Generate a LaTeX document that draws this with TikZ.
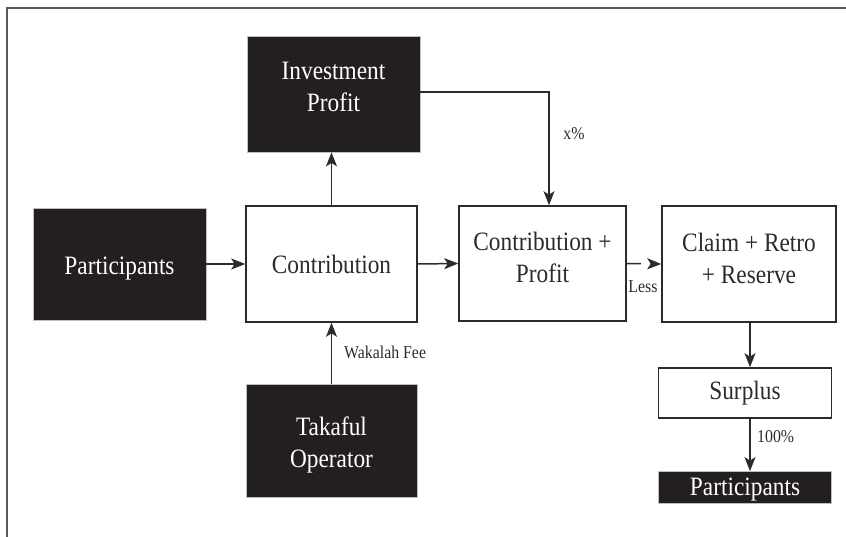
\documentclass[tikz,border=0pt]{standalone}
\usepackage{fontspec}
\setmainfont{Liberation Serif}[FakeStretch=0.88]
\usetikzlibrary{arrows.meta}
\definecolor{boxblack}{HTML}{231F20}
\definecolor{linegray}{HTML}{2B2B2B}
\definecolor{framegray}{HTML}{5A5A5A}
\newcommand{\mvtext}[2]{\raisebox{#1}[\height][\depth]{\begin{tabular}{@{}c@{}}#2\end{tabular}}}
\begin{document}
\begin{tikzpicture}[x=1pt,y=-1pt,
  big/.style={font=\fontsize{26.5}{32}\selectfont},
  blk/.style={big, fill=boxblack, draw=gray!50, line width=0.8pt, text=white, align=center, inner sep=0pt},
  wht/.style={big, fill=white, draw=linegray, line width=1.6pt, text=linegray, align=center, inner sep=0pt},
  arr/.style={draw=linegray, line width=1.5pt, -{Stealth[length=14pt,width=11pt,inset=3.5pt]}},
  lbl/.style={font=\fontsize{18}{20}\selectfont, text=linegray, inner sep=0pt},
  frame/.style={draw=framegray, line width=2.5pt}]
\useasboundingbox (0,0) rectangle (846,537);
\draw[frame] (7,537) -- (7,8) -- (846,8);
\node[blk, minimum width=173pt, minimum height=116pt] (ip) at (333.5,94) {\mvtext{5pt}{Investment\\Profit}};
\node[blk, minimum width=173pt, minimum height=112pt] (p1) at (119.5,264) {\mvtext{-4pt}{Participants}};
\node[wht, minimum width=171pt, minimum height=116pt] (con) at (331.5,264) {Contribution};
\node[wht, minimum width=167pt, minimum height=115pt] (cp) at (542.5,263.5) {\mvtext{3pt}{Contribution +\\Profit}};
\node[wht, minimum width=174pt, minimum height=116pt] (cl) at (749,264) {\mvtext{3pt}{Claim + Retro\\+ Reserve}};
\node[wht, minimum width=173pt, minimum height=50pt] (sur) at (745,393) {Surplus};
\node[blk, minimum width=173pt, minimum height=31pt] (p2) at (745,487.5) {\mvtext{-2pt}{Participants}};
\node[blk, minimum width=171pt, minimum height=113pt] (to) at (331.5,440.5) {\mvtext{-5pt}{Takaful\\Operator}};
\coordinate (k) at (549,92);
\coordinate (vx) at (750,0);
\draw[arr] (p1.east) -- (con.west);
\draw[arr] (con.east) -- (cp.west);
\draw[arr] (con.north) -- (con.north |- ip.south);
\draw[arr] (ip.east |- k) -- (k) -- (k |- cp.north);
\node[lbl] (xp) at (574,134) {x\%};
\draw[arr] (to.north) -- (to.north |- con.south);
\node[lbl, anchor=west] (wf) at (344,352) {Wakalah Fee};
\draw[arr, dash pattern=on 14pt off 10pt] (cp.east) -- (cl.west);
\node[lbl] (ls) at (643,287) {Less};
\draw[arr] (vx |- cl.south) -- (vx |- sur.north);
\draw[arr] (vx |- sur.south) -- (vx |- p2.north);
\node[lbl, anchor=west] (hp) at (757,437) {100\%};
\end{tikzpicture}
\end{document}
